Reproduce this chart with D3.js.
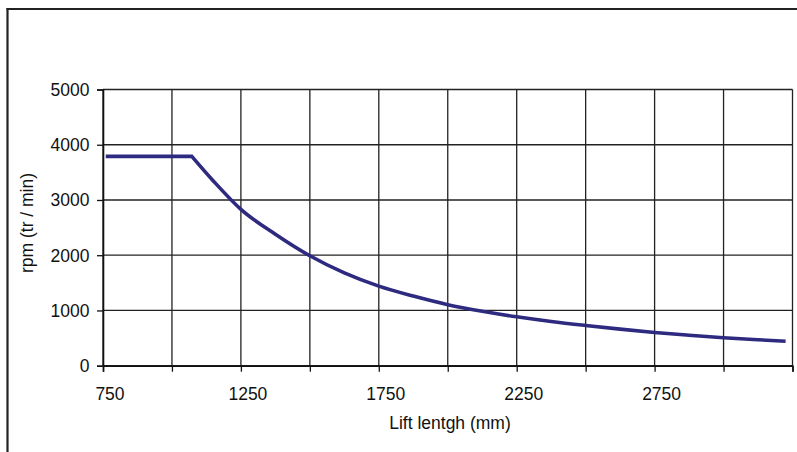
<!DOCTYPE html>
<html>
<head>
<meta charset="utf-8">
<script src="https://cdn.jsdelivr.net/npm/d3@7"></script>
<style>
  html, body { margin: 0; padding: 0; background: #fff; }
  svg { display: block; }
  text { font-family: "Liberation Sans", Arial, sans-serif; fill: #111; }
</style>
</head>
<body>
<svg id="chart" width="797" height="452"></svg>
<script>
// Data
const liftLength = [760, 1072, 1150, 1250, 1375, 1500, 1625, 1750, 1875, 2000, 2125, 2250, 2375, 2500, 2625, 2750, 2875, 3000, 3125, 3225];
const rpm        = [3790, 3790, 3345, 2830, 2380, 1990, 1680, 1440, 1260, 1105, 985, 885, 800, 728, 662, 602, 552, 507, 470, 442];
const xTickLabels = [750, 1250, 1750, 2250, 2750];
const yTickLabels = [0, 1000, 2000, 3000, 4000, 5000];
const xGrid = d3.range(750, 3251, 250);
const xTitle = "Lift lentgh (mm)";
const yTitle = "rpm (tr / min)";

const svg = d3.select("#chart");
const pLeft = 103, pRight = 792.5, pTop = 89.5, pBottom = 365.7;

const x = d3.scaleLinear().domain([750, 3250]).range([pLeft, pRight]);
const y = d3.scaleLinear().domain([0, 5000]).range([pBottom, pTop]);

// outer frame (top and left edges)
svg.append("line").attr("x1", 6.5).attr("x2", 797).attr("y1", 9).attr("y2", 9)
  .attr("stroke", "#222").attr("stroke-width", 2.2);
svg.append("line").attr("x1", 7.5).attr("x2", 7.5).attr("y1", 8).attr("y2", 452)
  .attr("stroke", "#222").attr("stroke-width", 2.2);

// gridlines
const g = svg.append("g");
g.selectAll("line.vg").data(xGrid).join("line").attr("class", "vg")
  .attr("x1", d => x(d)).attr("x2", d => x(d)).attr("y1", pTop).attr("y2", pBottom)
  .attr("stroke", "#222").attr("stroke-width", 1.3);
g.selectAll("line.hg").data(yTickLabels).join("line").attr("class", "hg")
  .attr("x1", pLeft).attr("x2", pRight).attr("y1", d => y(d)).attr("y2", d => y(d))
  .attr("stroke", "#222").attr("stroke-width", 1.3);

// axes
const xAxis = d3.axisBottom(x).tickValues(xGrid).tickSize(6).tickFormat("");
const gx = svg.append("g").attr("transform", `translate(0,${pBottom})`).call(xAxis);
gx.select(".domain").attr("stroke", "#111").attr("stroke-width", 1.6);
gx.selectAll(".tick line").attr("stroke", "#111").attr("stroke-width", 1.3);

const yAxis = d3.axisLeft(y).tickValues(yTickLabels).tickSize(6).tickFormat("");
const gy = svg.append("g").attr("transform", `translate(${pLeft},0)`).call(yAxis);
gy.select(".domain").attr("stroke", "#111").attr("stroke-width", 1.6);
gy.selectAll(".tick line").attr("stroke", "#111").attr("stroke-width", 1.3);

// tick labels
svg.selectAll("text.xl").data(xTickLabels).join("text").attr("class", "xl")
  .attr("x", d => x(d) + 7).attr("y", 400)
  .attr("text-anchor", "middle").attr("font-size", "17.5px").text(d => d);
svg.selectAll("text.yl").data(yTickLabels).join("text").attr("class", "yl")
  .attr("x", 89.5).attr("y", d => y(d) + 6.5)
  .attr("text-anchor", "end").attr("font-size", "17.5px").text(d => d);

// axis titles
svg.append("text").attr("x", 450).attr("y", 429).attr("text-anchor", "middle")
  .attr("font-size", "17.5px").text(xTitle);
svg.append("text").attr("transform", "translate(33,223) rotate(-90)")
  .attr("text-anchor", "middle").attr("font-size", "17.5px").text(yTitle);

// series line: straight flat part, then a smooth decreasing curve (sharp corner at the knee)
const pts = liftLength.map((d, i) => [d, rpm[i]]);
const straight = d3.line().x(d => x(d[0])).y(d => y(d[1]));
const smooth = d3.line().x(d => x(d[0])).y(d => y(d[1])).curve(d3.curveMonotoneX);
const pathD = straight(pts.slice(0, 2)) + smooth(pts.slice(1)).replace(/^M[^A-Za-z]*/, "");
svg.append("path")
  .attr("fill", "none").attr("stroke", "#2e2a80").attr("stroke-width", 3.6)
  .attr("stroke-linejoin", "miter")
  .attr("d", pathD);
</script>
</body>
</html>
